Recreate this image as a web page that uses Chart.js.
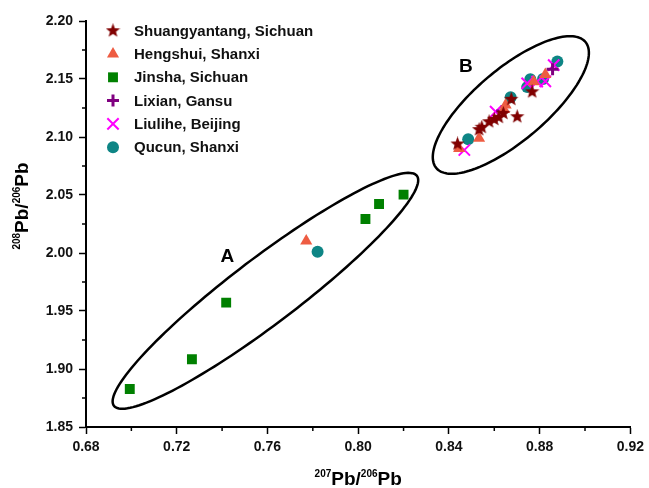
<!DOCTYPE html>
<html>
<head>
<meta charset="utf-8">
<script src="https://cdn.jsdelivr.net/npm/chart.js@4.4.1/dist/chart.umd.min.js"></script>
<style>
    html, body { margin: 0; padding: 0; background: #fff; }
    #wrap { width: 649px; height: 488px; }
</style>
</head>
<body>
<div id="wrap"><canvas id="pbChart" width="649" height="488"></canvas></div>
<script>
/* ─── data ─── */
const SERIES_NAMES = ['Shuangyantang, Sichuan', 'Hengshui, Shanxi', 'Jinsha, Sichuan',
                      'Lixian, Gansu', 'Liulihe, Beijing', 'Qucun, Shanxi'];

const shuangyantangX = [0.8438, 0.8533, 0.8545, 0.8577, 0.8600, 0.8620, 0.8640, 0.8675, 0.8701, 0.8767];
const shuangyantangY = [2.0940, 2.1064, 2.1084, 2.1132, 2.1152, 2.1170, 2.1204, 2.1325, 2.1175, 2.1390];

const hengshuiX = [0.7771, 0.8445, 0.8533, 0.8643, 0.8650, 0.8774, 0.8825];
const hengshuiY = [2.0103, 2.0900, 2.0990, 2.1237, 2.1276, 2.1477, 2.1539];

const jinshaX = [0.6993, 0.7267, 0.7418, 0.8032, 0.8092, 0.8200];
const jinshaY = [1.8828, 1.9084, 1.9572, 2.0293, 2.0422, 2.0503];

const lixianX = [0.8635, 0.8857];
const lixianY = [2.1225, 2.1585];

const liuliheX = [0.8468, 0.8606, 0.8745, 0.8789, 0.8825, 0.8862];
const liuliheY = [2.0888, 2.1218, 2.1462, 2.1477, 2.1480, 2.1620];

const qucunX = [0.7821, 0.8485, 0.8672, 0.8745, 0.8759, 0.8815, 0.8878];
const qucunY = [2.0011, 2.0980, 2.1342, 2.1430, 2.1497, 2.1500, 2.1650];

const X_MIN = 0.68, X_MAX = 0.92, X_STEP = 0.04;
const Y_MIN = 1.85, Y_MAX = 2.20, Y_STEP = 0.05;
const X_MINOR = [0.70, 0.74, 0.78, 0.82, 0.86, 0.90];
const Y_MINOR = [1.875, 1.925, 1.975, 2.025, 2.075, 2.125, 2.175];

// group outlines: centre + two conjugate half-axes, in data units
const GROUP_LABELS = ['A', 'B'];
const groupCentreX = [0.7591, 0.8673];
const groupCentreY = [1.9674, 2.1276];
const groupMajor = [[0.0668, 0.0991], [0.0329, 0.0543]];
const groupMinor = [[0.0087, -0.0228], [0.0101, -0.0238]];
const groupLabelX = [0.7423, 0.8475];
const groupLabelY = [1.9968, 2.1606];

function toPoints(xs, ys) {
    return xs.map(function(x, i) { return { x: x, y: ys[i] }; });
}

/* ─── filled star marker ─── */
function makeStar(size, color) {
    const c = document.createElement('canvas');
    c.width = size; c.height = size;
    const g = c.getContext('2d');
    const R = size / 2, r = R * 0.42;
    g.beginPath();
    for (let i = 0; i < 10; i++) {
        const rad = i % 2 ? r : R;
        const a = -Math.PI / 2 + i * Math.PI / 5;
        g.lineTo(R + rad * Math.cos(a), R + rad * Math.sin(a));
    }
    g.closePath();
    g.fillStyle = color;
    g.fill();
    return c;
}
const starImg = makeStar(15, '#800000');

const FONT = "'Liberation Sans', Arial, sans-serif";

/* ─── plugins ─── */
const minorTicks = {
    id: 'minorTicks',
    afterDraw(chart) {
        const ctx = chart.ctx, xs = chart.scales.x, ys = chart.scales.y, a = chart.chartArea;
        ctx.save();
        ctx.strokeStyle = '#000';
        ctx.lineWidth = 1.5;
        X_MINOR.forEach(function(v) {
            const p = xs.getPixelForValue(v);
            ctx.beginPath(); ctx.moveTo(p, a.bottom); ctx.lineTo(p, a.bottom + 4); ctx.stroke();
        });
        Y_MINOR.forEach(function(v) {
            const p = ys.getPixelForValue(v);
            ctx.beginPath(); ctx.moveTo(a.left, p); ctx.lineTo(a.left - 4, p); ctx.stroke();
        });
        ctx.restore();
    }
};

const groupOutlines = {
    id: 'groupOutlines',
    beforeDatasetsDraw(chart) {
        const ctx = chart.ctx, xs = chart.scales.x, ys = chart.scales.y;
        ctx.save();
        ctx.strokeStyle = '#000';
        ctx.lineWidth = 2.5;
        for (let k = 0; k < GROUP_LABELS.length; k++) {
            const cx = xs.getPixelForValue(groupCentreX[k]);
            const cy = ys.getPixelForValue(groupCentreY[k]);
            const ux = xs.getPixelForValue(groupCentreX[k] + groupMajor[k][0]) - cx;
            const uy = ys.getPixelForValue(groupCentreY[k] + groupMajor[k][1]) - cy;
            const vx = xs.getPixelForValue(groupCentreX[k] + groupMinor[k][0]) - cx;
            const vy = ys.getPixelForValue(groupCentreY[k] + groupMinor[k][1]) - cy;
            ctx.beginPath();
            for (let i = 0; i <= 160; i++) {
                const t = i / 160 * Math.PI * 2;
                ctx.lineTo(cx + ux * Math.cos(t) + vx * Math.sin(t), cy + uy * Math.cos(t) + vy * Math.sin(t));
            }
            ctx.closePath();
            ctx.stroke();

            ctx.fillStyle = '#000';
            ctx.font = 'bold 19px ' + FONT;
            ctx.textAlign = 'center';
            ctx.textBaseline = 'middle';
            ctx.fillText(GROUP_LABELS[k], xs.getPixelForValue(groupLabelX[k]), ys.getPixelForValue(groupLabelY[k]));
        }
        ctx.restore();
    }
};

const sideLegend = {
    id: 'sideLegend',
    afterDraw(chart) {
        const ctx = chart.ctx;
        ctx.save();
        chart.data.datasets.forEach(function(ds, i) {
            const y = 30.7 + i * 23.3;
            ctx.fillStyle = ds.backgroundColor;
            ctx.strokeStyle = ds.borderColor;
            ctx.lineWidth = ds.borderWidth;
            Chart.helpers.drawPoint(ctx, {
                pointStyle: ds.pointStyle,
                radius: ds.pointRadius,
                borderWidth: ds.borderWidth,
                rotation: 0
            }, 113, y);
            ctx.fillStyle = '#111';
            ctx.font = 'bold 15px ' + FONT;
            ctx.textAlign = 'left';
            ctx.textBaseline = 'middle';
            ctx.fillText(ds.label, 134, y + 1);
        });
        ctx.restore();
    }
};

function isoTitle(ctx, parts) {
    let w = 0;
    parts.forEach(function(p) {
        ctx.font = 'bold ' + (p[1] ? 10 : 19) + 'px ' + FONT;
        w += ctx.measureText(p[0]).width;
    });
    let x = -w / 2;
    parts.forEach(function(p) {
        ctx.font = 'bold ' + (p[1] ? 10 : 19) + 'px ' + FONT;
        ctx.fillText(p[0], x, p[1] ? -8 : 0);
        x += ctx.measureText(p[0]).width;
    });
}

const axisTitles = {
    id: 'axisTitles',
    afterDraw(chart) {
        const ctx = chart.ctx, a = chart.chartArea;
        ctx.save();
        ctx.fillStyle = '#000';
        ctx.textAlign = 'left';
        ctx.textBaseline = 'alphabetic';
        ctx.translate((a.left + a.right) / 2, 485);
        isoTitle(ctx, [['207', true], ['Pb/', false], ['206', true], ['Pb', false]]);
        ctx.restore();

        ctx.save();
        ctx.fillStyle = '#000';
        ctx.textAlign = 'left';
        ctx.textBaseline = 'alphabetic';
        ctx.translate(28, 206);
        ctx.rotate(-Math.PI / 2);
        isoTitle(ctx, [['208', true], ['Pb/', false], ['206', true], ['Pb', false]]);
        ctx.restore();
    }
};

/* ─── chart ─── */
const tickFont = { family: FONT, size: 14, weight: 'bold' };

new Chart(document.getElementById('pbChart'), {
    type: 'scatter',
    data: {
        datasets: [{
                label: SERIES_NAMES[0],
                data: toPoints(shuangyantangX, shuangyantangY),
                pointStyle: starImg,
                pointRadius: 7,
                backgroundColor: '#800000',
                borderColor: '#800000',
                borderWidth: 0,
            },
            {
                label: SERIES_NAMES[1],
                data: toPoints(hengshuiX, hengshuiY),
                pointStyle: 'triangle',
                pointRadius: 7,
                backgroundColor: '#EE5C42',
                borderColor: '#EE5C42',
                borderWidth: 0,
            },
            {
                label: SERIES_NAMES[2],
                data: toPoints(jinshaX, jinshaY),
                pointStyle: 'rect',
                pointRadius: 7,
                backgroundColor: '#008000',
                borderColor: '#008000',
                borderWidth: 0,
            },
            {
                label: SERIES_NAMES[3],
                data: toPoints(lixianX, lixianY),
                pointStyle: 'cross',
                pointRadius: 6,
                backgroundColor: '#800080',
                borderColor: '#800080',
                borderWidth: 3,
            },
            {
                label: SERIES_NAMES[4],
                data: toPoints(liuliheX, liuliheY),
                pointStyle: 'crossRot',
                pointRadius: 8,
                backgroundColor: '#FF00FF',
                borderColor: '#FF00FF',
                borderWidth: 2,
            },
            {
                label: SERIES_NAMES[5],
                data: toPoints(qucunX, qucunY),
                pointStyle: 'circle',
                pointRadius: 6,
                backgroundColor: '#0E8585',
                borderColor: '#0E8585',
                borderWidth: 0,
            }
        ]
    },
    options: {
        responsive: false,
        animation: false,
        events: [],
        layout: { padding: { top: 21, right: 15, bottom: 0, left: 0 } },
        plugins: { legend: { display: false }, tooltip: { enabled: false } },
        scales: {
            x: {
                type: 'linear',
                min: X_MIN, max: X_MAX,
                afterFit: function(s) { s.height = 61; },
                ticks: {
                    stepSize: X_STEP,
                    color: '#111',
                    font: tickFont,
                    padding: 5,
                    maxRotation: 0,
                    callback: function(v) { return v.toFixed(2); }
                },
                grid: { display: true, drawOnChartArea: false, drawTicks: true, tickLength: 7, tickColor: '#000', tickWidth: 1.5 },
                border: { display: true, color: '#000', width: 2 }
            },
            y: {
                type: 'linear',
                min: Y_MIN, max: Y_MAX,
                afterFit: function(s) { s.width = 86; },
                ticks: {
                    stepSize: Y_STEP,
                    color: '#111',
                    font: tickFont,
                    padding: 6,
                    callback: function(v) { return v.toFixed(2); }
                },
                grid: { display: true, drawOnChartArea: false, drawTicks: true, tickLength: 7, tickColor: '#000', tickWidth: 1.5 },
                border: { display: true, color: '#000', width: 2 }
            }
        }
    },
    plugins: [groupOutlines, minorTicks, sideLegend, axisTitles]
});
</script>
</body>
</html>
